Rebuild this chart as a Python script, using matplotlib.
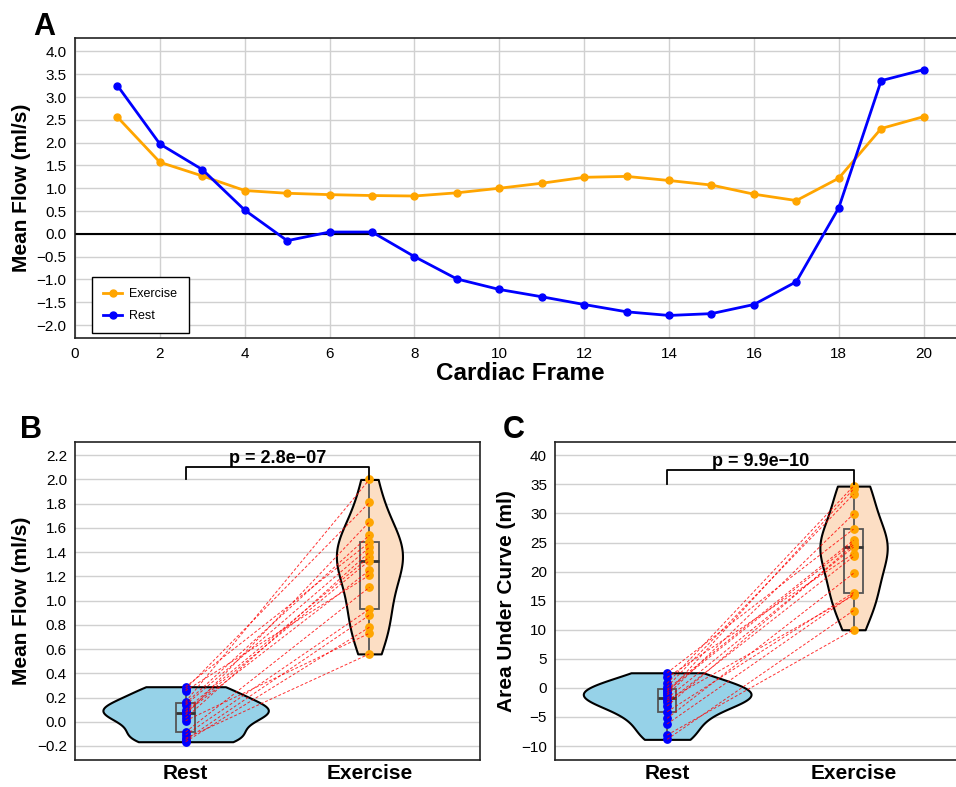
import numpy as np
import pandas as pd
import matplotlib
matplotlib.use("Agg")
import matplotlib.pyplot as plt
import seaborn as sns

# ---------------------------
# Data
# ---------------------------
frames = list(range(1, 21))
exercise_flow = [2.56, 1.57, 1.27, 0.95, 0.89, 0.86, 0.84, 0.83, 0.90, 1.00,
                 1.11, 1.24, 1.26, 1.17, 1.07, 0.87, 0.73, 1.22, 2.31, 2.57]
rest_flow = [3.25, 1.97, 1.41, 0.52, -0.15, 0.04, 0.04, -0.50, -0.99, -1.22,
             -1.38, -1.55, -1.71, -1.79, -1.75, -1.55, -1.05, 0.57, 3.36, 3.60]

# per-subject values (paired rest / exercise)
rest_mean = [0.289, -0.110, 0.056, 0.165, -0.165, 0.083, 0.256, -0.085, 0.138,
             0.008, 0.270, -0.137, 0.100, 0.075, 0.152, -0.150, 0.030]
exer_mean = [1.48, 0.93, 1.65, 2.00, 0.78, 1.33, 1.21, 1.11, 1.44,
             0.73, 1.81, 0.56, 1.36, 1.25, 1.54, 0.88, 1.40]
rest_auc = [2.6, -4.1, -1.23, 0.78, -8.85, -1.8, 1.8, -5.24, -0.25,
            -2.09, 0.2, -8.1, -0.5, -2.5, -0.9, -6.2, -3.12]
exer_auc = [27.3, 16.4, 29.9, 34.7, 13.3, 24.2, 23.1, 19.7, 25.4,
            15.9, 33.3, 10.0, 25.0, 22.6, 34.2, 16.1, 24.6]

groups = ["Rest", "Exercise"]
p_mean = "p = 2.8e\u221207"
p_auc = "p = 9.9e\u221210"

# ---------------------------
# Style
# ---------------------------
plt.rcParams["font.family"] = ["Liberation Sans", "DejaVu Sans"]
plt.rcParams["axes.edgecolor"] = "#222222"
plt.rcParams["axes.linewidth"] = 1.2
plt.rcParams["xtick.major.size"] = 0
plt.rcParams["ytick.major.size"] = 0
plt.rcParams["xtick.major.pad"] = 6
plt.rcParams["ytick.major.pad"] = 6
plt.rcParams["xtick.labelsize"] = 11
plt.rcParams["ytick.labelsize"] = 11

fig = plt.figure(figsize=(9.56, 7.87), dpi=100)


def style_grid(ax):
    ax.grid(True, color="#d0d0d0", linewidth=1.0)
    ax.set_axisbelow(True)


# --- Panel A: flow curves ---
axA = fig.add_axes([0.0785, 0.5702, 0.932, 0.3812])
style_grid(axA)
axA.axhline(0, color="black", linewidth=1.5, zorder=2)
axA.plot(frames, exercise_flow, color="orange", marker="o", markersize=5,
         linewidth=2, label="Exercise", zorder=3)
axA.plot(frames, rest_flow, color="blue", marker="o", markersize=5,
         linewidth=2, label="Rest", zorder=3)
axA.set_xlim(0, 21)
axA.set_ylim(-2.29, 4.29)
axA.set_xticks(range(0, 21, 2))
axA.set_yticks(np.arange(-2.0, 4.01, 0.5))
axA.set_xlabel("Cardiac Frame", fontsize=17.5, fontweight="bold", labelpad=1)
axA.set_ylabel("Mean Flow (ml/s)", fontsize=15, fontweight="bold")
leg = axA.legend(loc="lower left", bbox_to_anchor=(0.019, 0.017),
                 borderaxespad=0, fontsize=9, fancybox=False, framealpha=1,
                 edgecolor="black", borderpad=0.9, labelspacing=0.8,
                 handlelength=1.5, handletextpad=0.6)
leg.get_frame().set_linewidth(1.0)


def paired_panel(ax, rest, exer, ylim, yticks, ylabel, ptext, by, bh):
    style_grid(ax)
    df = pd.DataFrame({
        "cond": ["Rest"] * len(rest) + ["Exercise"] * len(exer),
        "val": list(rest) + list(exer),
    })
    sns.violinplot(data=df, x="cond", y="val", hue="cond", order=groups,
                   hue_order=groups, palette=["#96D2E8", "#FCDEC4"],
                   saturation=1, cut=0, inner=None, width=0.9,
                   density_norm="area", common_norm=True,
                   linewidth=1.5, linecolor="black", legend=False, ax=ax)
    ax.boxplot([rest, exer], positions=[0, 1], widths=0.1, whis=(0, 100),
               showfliers=False, showcaps=False, patch_artist=True,
               boxprops=dict(facecolor="none", edgecolor="#555555", linewidth=1.3),
               whiskerprops=dict(color="#555555", linewidth=1.3),
               medianprops=dict(color="#333333", linewidth=2), zorder=3)
    ax.scatter([0] * len(rest), rest, color="blue", s=28, zorder=4)
    ax.scatter([1] * len(exer), exer, color="orange", s=28, zorder=4)
    for r, e in zip(rest, exer):
        ax.plot([0, 1], [r, e], color="red", linestyle=(0, (3, 2)),
                linewidth=0.7, alpha=0.8, zorder=5)
    ax.plot([0, 0, 1, 1], [by, by + bh, by + bh, by], color="black",
            linewidth=1.3, zorder=5)
    ax.text(0.5, by + bh, ptext, ha="center", va="bottom", fontsize=13,
            fontweight="bold")
    ax.set_xlim(-0.6, 1.6)
    ax.set_ylim(*ylim)
    ax.set_yticks(yticks)
    ax.set_xticks([0, 1])
    ax.set_xticklabels(groups, fontsize=15, fontweight="bold")
    ax.tick_params(axis="x", pad=3)
    ax.set_xlabel("")
    ax.set_ylabel(ylabel, fontsize=15, fontweight="bold")


# --- Panel B: mean flow ---
axB = fig.add_axes([0.0788, 0.0343, 0.4230, 0.4045])
paired_panel(axB, rest_mean, exer_mean, (-0.316, 2.312),
             np.round(np.arange(-0.2, 2.21, 0.2), 1), "Mean Flow (ml/s)",
             p_mean, 2.0, 0.1)

# --- Panel C: area under curve ---
axC = fig.add_axes([0.5809, 0.0343, 0.4289, 0.4045])
paired_panel(axC, rest_auc, exer_auc, (-12.4, 42.34), range(-10, 41, 5),
             "Area Under Curve (ml)", p_auc, 35.0, 2.5)

# --- panel letters ---
fig.text(0.0345, 0.9549, "A", fontsize=22, fontweight="bold", va="baseline")
fig.text(0.0209, 0.4435, "B", fontsize=22, fontweight="bold", va="baseline")
fig.text(0.5262, 0.4435, "C", fontsize=22, fontweight="bold", va="baseline")

fig.savefig("out.png", dpi=100)
